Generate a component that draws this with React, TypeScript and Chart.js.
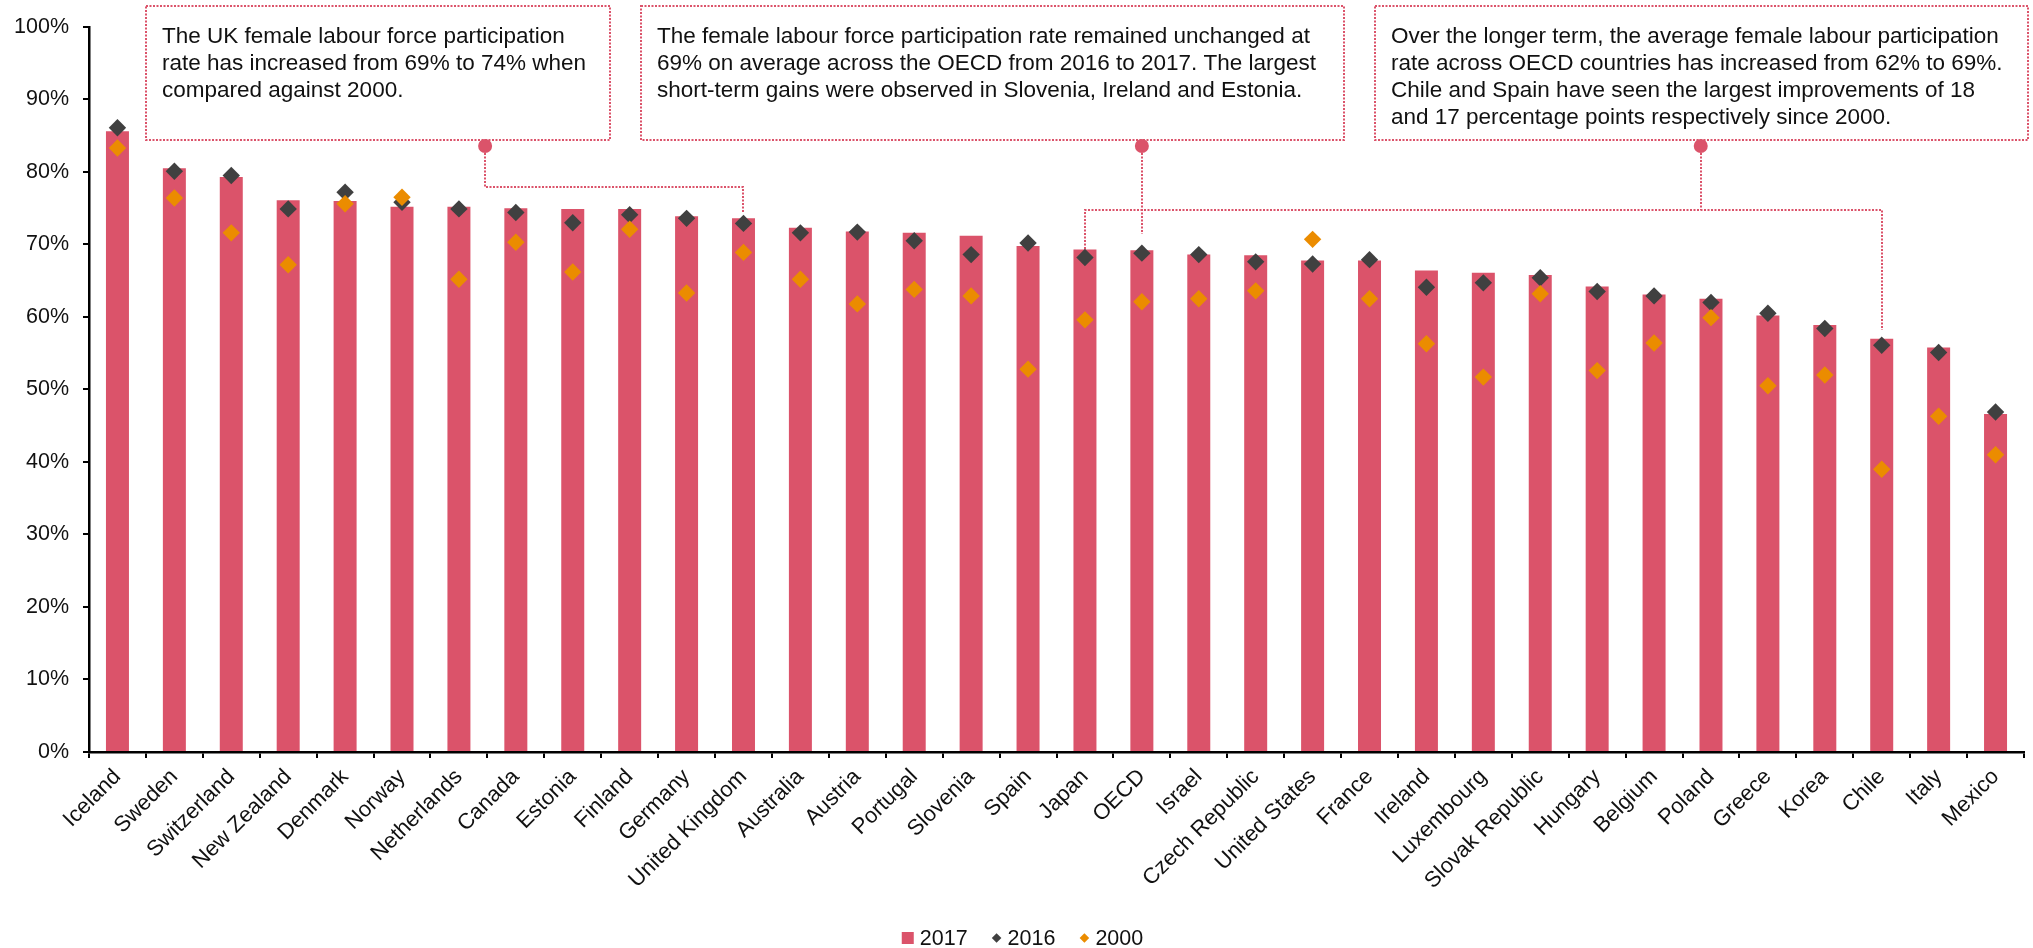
import React, { useEffect, useRef } from "react";
import { Chart, registerables } from "chart.js";

Chart.register(...registerables);

// ---------- Data ----------
const categories: string[] = [
  "Iceland", "Sweden", "Switzerland", "New Zealand", "Denmark", "Norway", "Netherlands",
  "Canada", "Estonia", "Finland", "Germany", "United Kingdom", "Australia", "Austria",
  "Portugal", "Slovenia", "Spain", "Japan", "OECD", "Israel", "Czech Republic",
  "United States", "France", "Ireland", "Luxembourg", "Slovak Republic", "Hungary",
  "Belgium", "Poland", "Greece", "Korea", "Chile", "Italy", "Mexico",
];

const values2017: number[] = [
  85.6, 80.5, 79.3, 76.1, 76.0, 75.2, 75.2, 75.0, 74.9, 74.9, 73.9, 73.6, 72.3, 71.8,
  71.6, 71.2, 69.8, 69.3, 69.2, 68.6, 68.5, 67.8, 67.8, 66.4, 66.1, 65.8, 64.2,
  63.1, 62.5, 60.2, 58.9, 57.0, 55.8, 46.6,
];

const values2016: number[] = [
  86.1, 80.1, 79.5, 74.9, 77.2, 75.8, 74.9, 74.4, 73.0, 74.1, 73.6, 72.9, 71.6, 71.7,
  70.5, 68.6, 70.2, 68.2, 68.8, 68.6, 67.6, 67.3, 67.9, 64.1, 64.7, 65.4, 63.5,
  62.9, 62.0, 60.5, 58.4, 56.1, 55.1, 46.9,
];

const values2000: number[] = [
  83.3, 76.4, 71.6, 67.2, 75.6, 76.5, 65.2, 70.3, 66.2, 72.1, 63.3, 68.9, 65.2, 61.8,
  63.8, 62.9, 52.8, 59.6, 62.1, 62.5, 63.6, 70.7, 62.5, 56.3, 51.7, 63.2, 52.6,
  56.4, 59.9, 50.5, 52.0, 39.0, 46.3, 41.0,
];

const seriesLabels: string[] = ["2017", "2016", "2000"];

const annotationTexts: string[][] = [
  [
    "The UK female labour force participation",
    "rate has increased from 69% to 74% when",
    "compared against 2000.",
  ],
  [
    "The female labour force participation rate remained unchanged at",
    "69% on average across the OECD from 2016 to 2017. The largest",
    "short-term gains were observed in Slovenia, Ireland and Estonia.",
  ],
  [
    "Over the longer term, the average female labour participation",
    "rate across OECD countries has increased from 62% to 69%.",
    "Chile and Spain have seen the largest improvements of 18",
    "and 17 percentage points respectively since 2000.",
  ],
];

// ---------- Styles / layout ----------
const FONT = "'Liberation Sans', Arial, Helvetica, sans-serif";
const ROSE = "#DB536A";
const DARK = "#404040";
const ORANGE = "#EB8C00";
const TEXT = "#111111";
const W = 2033;
const H = 948;

const BOX_TOP = 6;
const BOX_BOTTOM = 140;
const BOXES = [
  { x0: 146, x1: 610 },
  { x0: 641, x1: 1344 },
  { x0: 1375, x1: 2028 },
];
const DOT_Y = 146;

// connector paths: [categoryPosition, value | null(=dot)]
const connectors: Array<Array<[number, number | null]>> = [
  [[6.46, null], [6.46, 77.9], [11, 77.9], [11, 74.4]],
  [[18, null], [18, 71.4]],
  [[27.82, null], [27.82, 74.8]],
  [[17, 69.4], [17, 74.8], [31, 74.8], [31, 58.2]],
];
const dotPositions: number[] = [6.46, 18, 27.82];

const annotationPlugin = {
  id: "annotations",
  afterDatasetsDraw(chart: any) {
    const ctx = chart.ctx as CanvasRenderingContext2D;
    const xs = chart.scales.x;
    const ys = chart.scales.y;
    ctx.save();
    // boxes
    ctx.strokeStyle = ROSE;
    ctx.lineWidth = 2;
    ctx.setLineDash([2, 1.5]);
    BOXES.forEach((b) => {
      ctx.strokeRect(b.x0, BOX_TOP, b.x1 - b.x0, BOX_BOTTOM - BOX_TOP);
    });
    // connectors
    connectors.forEach((path) => {
      ctx.beginPath();
      path.forEach(([c, v], i) => {
        const px = Math.round(xs.getPixelForValue(c));
        const py = v === null ? DOT_Y : Math.round(ys.getPixelForValue(v));
        if (i === 0) ctx.moveTo(px, py);
        else ctx.lineTo(px, py);
      });
      ctx.stroke();
    });
    ctx.setLineDash([]);
    // dots
    ctx.fillStyle = ROSE;
    dotPositions.forEach((c) => {
      ctx.beginPath();
      ctx.arc(xs.getPixelForValue(c), DOT_Y, 7, 0, Math.PI * 2);
      ctx.fill();
    });
    // text
    ctx.fillStyle = TEXT;
    ctx.font = `22.5px ${FONT}`;
    ctx.textBaseline = "alphabetic";
    ctx.textAlign = "left";
    annotationTexts.forEach((lines, bi) => {
      const b = BOXES[bi];
      lines.forEach((line, li) => {
        ctx.fillText(line, b.x0 + 16, 43 + li * 27);
      });
    });
    ctx.restore();
  },
};

const legendPlugin = {
  id: "customLegend",
  afterDraw(chart: any) {
    const ctx = chart.ctx as CanvasRenderingContext2D;
    ctx.save();
    ctx.font = `21.5px ${FONT}`;
    ctx.textBaseline = "middle";
    ctx.textAlign = "left";
    const items = chart.data.datasets.map((ds: any) => ({
      label: ds.label,
      color: ds.type === "bar" ? ds.backgroundColor : ds.pointBackgroundColor,
      shape: ds.type === "bar" ? "square" : "diamond",
    }));
    const markerW = (s: string) => (s === "square" ? 12 : 10);
    const gapText = 6;
    const gapItem = 24;
    const widths = items.map((it: any) => markerW(it.shape) + gapText + ctx.measureText(it.label).width);
    const total = widths.reduce((a: number, b: number) => a + b, 0) + gapItem * (items.length - 1);
    let x = W / 2 + 6 - total / 2;
    const cy = 938;
    items.forEach((it: any, i: number) => {
      const mw = markerW(it.shape);
      ctx.fillStyle = it.color;
      if (it.shape === "square") {
        ctx.fillRect(x, cy - 6, 12, 12);
      } else {
        const cx = x + mw / 2;
        const r = 4.8;
        ctx.beginPath();
        ctx.moveTo(cx - r, cy);
        ctx.lineTo(cx, cy - r);
        ctx.lineTo(cx + r, cy);
        ctx.lineTo(cx, cy + r);
        ctx.closePath();
        ctx.fill();
      }
      ctx.fillStyle = TEXT;
      ctx.fillText(it.label, x + mw + gapText, cy + 1);
      x += widths[i] + gapItem;
    });
    ctx.restore();
  },
};

export default function App() {
  const ref = useRef<HTMLCanvasElement>(null);

  useEffect(() => {
    const canvas = ref.current;
    if (!canvas) return;
    const yFont = { family: FONT, size: 21.5 };
    const xFont = { family: FONT, size: 22 };
    const chart = new Chart(canvas, {
      type: "bar",
      data: {
        labels: categories,
        datasets: [
          {
            type: "bar",
            label: seriesLabels[0],
            data: values2017,
            backgroundColor: ROSE,
            borderWidth: 0,
            barPercentage: 0.404,
            categoryPercentage: 1.0,
            order: 3,
          } as any,
          {
            type: "line",
            label: seriesLabels[1],
            data: values2016,
            showLine: false,
            pointStyle: "rectRot",
            pointRadius: 8.7,
            pointHoverRadius: 8.7,
            pointBackgroundColor: DARK,
            pointBorderWidth: 0,
            borderColor: DARK,
            order: 2,
          } as any,
          {
            type: "line",
            label: seriesLabels[2],
            data: values2000,
            showLine: false,
            pointStyle: "rectRot",
            pointRadius: 8.7,
            pointHoverRadius: 8.7,
            pointBackgroundColor: ORANGE,
            pointBorderWidth: 0,
            borderColor: ORANGE,
            order: 1,
          } as any,
        ],
      },
      options: {
        responsive: false,
        animation: false,
        devicePixelRatio: 1,
        layout: { padding: { top: 17, right: 9, bottom: 46, left: 0 } },
        plugins: {
          legend: { display: false },
          tooltip: { enabled: false },
        },
        scales: {
          x: {
            grid: {
              display: true,
              drawOnChartArea: false,
              drawTicks: true,
              tickLength: 6,
              color: "#000",
              lineWidth: 2,
              offset: true,
            },
            border: { display: true, color: "#000", width: 2.5 },
            ticks: {
              autoSkip: false,
              maxRotation: 45,
              minRotation: 45,
              padding: 6,
              color: TEXT,
              font: xFont,
            },
            afterFit: (s: any) => {
              s.height = 150;
            },
          },
          y: {
            min: 0,
            max: 100,
            ticks: {
              stepSize: 10,
              padding: 14,
              color: TEXT,
              font: yFont,
              callback: (v: any) => `${v}%`,
            },
            grid: {
              drawOnChartArea: false,
              drawTicks: true,
              tickLength: 6,
              color: "#000",
              lineWidth: 2,
            },
            border: { display: true, color: "#000", width: 2.5 },
            afterFit: (s: any) => {
              s.width = 89;
            },
          },
        },
      } as any,
      plugins: [annotationPlugin, legendPlugin],
    });
    return () => chart.destroy();
  }, []);

  return (
    <div style={{ position: "fixed", left: 0, top: 0, width: W, height: H, background: "#fff" }}>
      <canvas ref={ref} width={W} height={H} style={{ display: "block" }} />
    </div>
  );
}
